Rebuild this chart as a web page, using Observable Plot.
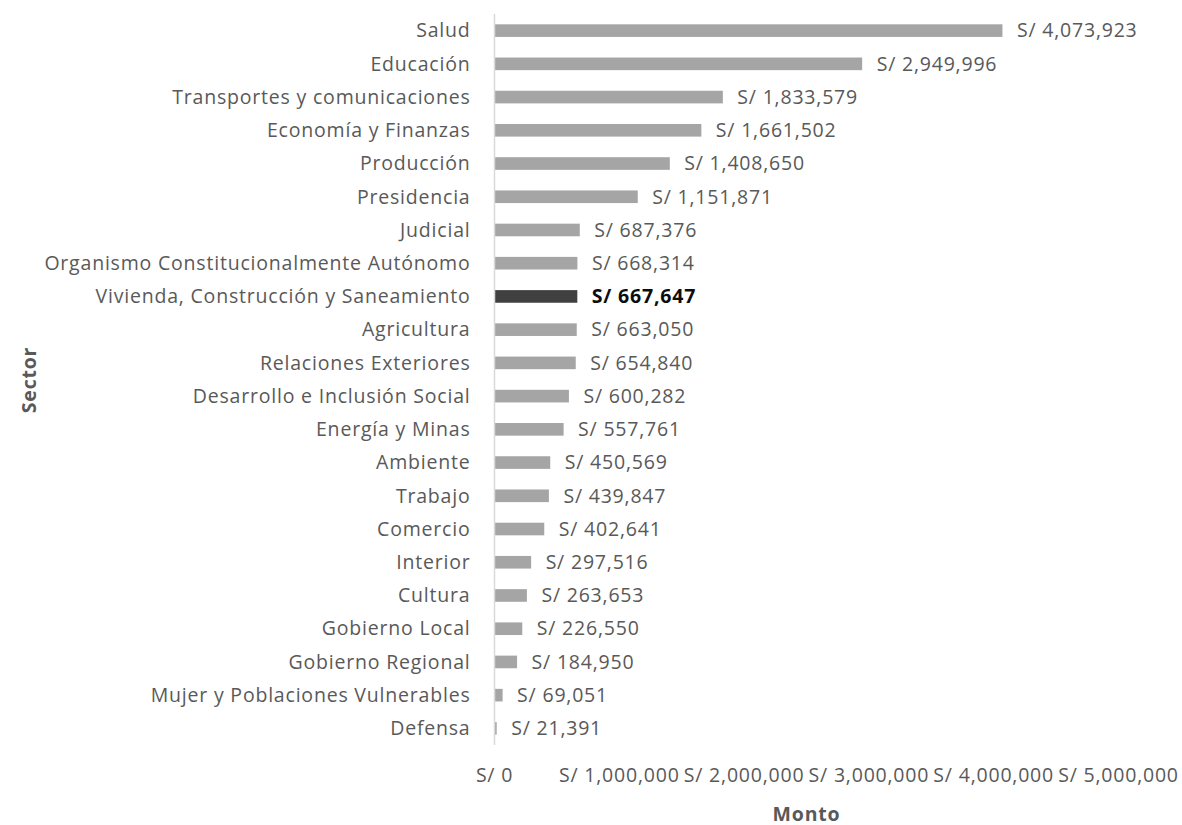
<!DOCTYPE html>
<html>
<head>
<meta charset="utf-8">
<script src="https://cdn.jsdelivr.net/npm/d3@7"></script>
<script src="https://cdn.jsdelivr.net/npm/@observablehq/plot@0.6"></script>
<style>
  html, body { margin: 0; padding: 0; background: #fff; }
  #chart svg { display: block; }
  #chart svg text { letter-spacing: 0.8px; }
  g[aria-label="x-axis label"] text, g[aria-label="y-axis label"] text { font-weight: bold; }
</style>
</head>
<body>
<div id="chart"></div>
<script>
const sectors = [
  "Salud", "Educación", "Transportes y comunicaciones", "Economía y Finanzas",
  "Producción", "Presidencia", "Judicial", "Organismo Constitucionalmente Autónomo",
  "Vivienda, Construcción y Saneamiento", "Agricultura", "Relaciones Exteriores",
  "Desarrollo e Inclusión Social", "Energía y Minas", "Ambiente", "Trabajo",
  "Comercio", "Interior", "Cultura", "Gobierno Local", "Gobierno Regional",
  "Mujer y Poblaciones Vulnerables", "Defensa"
];
const montos = [
  4073923, 2949996, 1833579, 1661502, 1408650, 1151871, 687376, 668314,
  667647, 663050, 654840, 600282, 557761, 450569, 439847, 402641, 297516,
  263653, 226550, 184950, 69051, 21391
];
const highlight = "Vivienda, Construcción y Saneamiento";
const xTicks = [0, 1000000, 2000000, 3000000, 4000000, 5000000];

const data = sectors.map((s, i) => ({ sector: s, monto: montos[i], hi: s === highlight }));
const fmt = v => "S/ " + d3.format(",")(v);
const FS = 19.5;

const chart = Plot.plot({
  width: 1182,
  height: 825,
  marginLeft: 494,
  marginRight: 64,
  marginTop: 14,
  marginBottom: 80,
  style: { fontFamily: "'Open Sans', sans-serif", fontSize: FS + "px", color: "#595959", background: "#fff" },
  x: { domain: [0, 5000000] },
  y: { domain: sectors, paddingInner: 0.62, paddingOuter: 0.31, round: false },
  marks: [
    Plot.barX(data, { x: "monto", y: "sector", fill: d => d.hi ? "#404040" : "#A5A5A5" }),
    Plot.ruleX([0], { stroke: "#D9D9D9", strokeWidth: 1.5 }),
    Plot.text(data.filter(d => !d.hi), { x: "monto", y: "sector", text: d => fmt(d.monto), textAnchor: "start", dx: 14, fill: "#595959", fontSize: FS }),
    Plot.text(data.filter(d => d.hi), { x: "monto", y: "sector", text: d => fmt(d.monto), textAnchor: "start", dx: 14, fill: "#0D0D0D", fontSize: FS, fontWeight: "bold" }),
    Plot.axisY({ tickSize: 0, tickPadding: 24, label: "Sector", labelAnchor: "center", labelOffset: 472, labelArrow: "none", fontSize: FS }),
    Plot.axisX({ ticks: xTicks, tickSize: 0, tickPadding: 23, tickFormat: fmt, label: "Monto", labelAnchor: "center", labelOffset: 75, labelArrow: "none", fontSize: FS })
  ]
});
document.getElementById("chart").appendChild(chart);
</script>
</body>
</html>
